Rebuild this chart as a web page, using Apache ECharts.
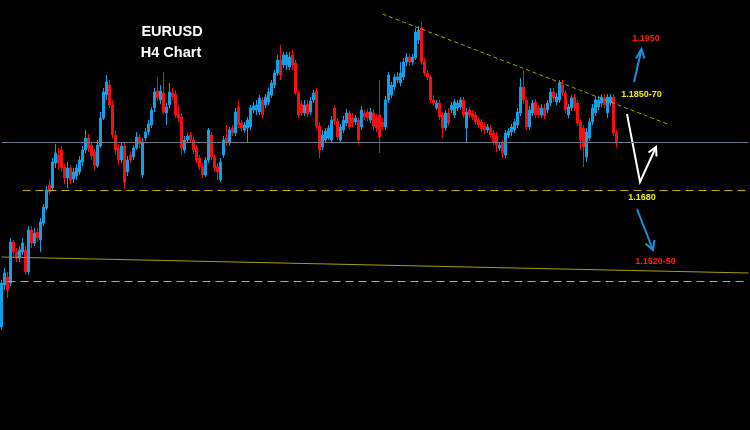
<!DOCTYPE html>
<html><head><meta charset="utf-8">
<script src="https://cdn.jsdelivr.net/npm/echarts@6/dist/echarts.min.js"></script>
<style>html,body{margin:0;padding:0;background:#000}#c{width:750px;height:430px}</style>
</head><body><div id="c"></div><script>
// EURUSD H4 candles (open, close, low, high)
const opens=[1.1406,1.1490,1.1506,1.1494,1.1576,1.1556,1.1544,1.1556,1.1560,1.1516,
1.1600,1.1574,1.1596,1.1580,1.1614,1.1644,1.1690,1.1684,1.1734,1.1750,
1.1760,1.1726,1.1704,1.1724,1.1702,1.1708,1.1716,1.1736,1.1760,1.1784,
1.1770,1.1756,1.1728,1.1768,1.1824,1.1870,1.1890,1.1850,1.1790,1.1764,
1.1740,1.1768,1.1716,1.1750,1.1746,1.1764,1.1786,1.1710,1.1784,1.1796,
1.1810,1.1844,1.1878,1.1860,1.1874,1.1834,1.1850,1.1874,1.1872,1.1832,
1.1826,1.1760,1.1780,1.1790,1.1780,1.1764,1.1744,1.1728,1.1710,1.1740,
1.1790,1.1746,1.1726,1.1700,1.1750,1.1784,1.1774,1.1804,1.1794,1.1846,
1.1814,1.1800,1.1804,1.1806,1.1840,1.1840,1.1836,1.1860,1.1850,1.1856,
1.1870,1.1890,1.1914,1.1940,1.1930,1.1930,1.1926,1.1950,1.1934,1.1874,
1.1852,1.1834,1.1852,1.1836,1.1860,1.1878,1.1808,1.1766,1.1780,1.1784,
1.1780,1.1844,1.1818,1.1780,1.1800,1.1814,1.1834,1.1824,1.1816,1.1820,
1.1806,1.1834,1.1836,1.1820,1.1834,1.1824,1.1830,1.1816,1.1806,1.1860,
1.1870,1.1886,1.1900,1.1894,1.1906,1.1936,1.1946,1.1936,1.1944,1.1980,
1.2004,1.1936,1.1914,1.1906,1.1860,1.1844,1.1854,1.1830,1.1804,1.1834,
1.1840,1.1830,1.1844,1.1846,1.1860,1.1804,1.1840,1.1834,1.1830,1.1820,
1.1816,1.1808,1.1800,1.1804,1.1794,1.1788,1.1764,1.1774,1.1750,1.1790,
1.1796,1.1800,1.1810,1.1834,1.1886,1.1860,1.1806,1.1834,1.1856,1.1844,
1.1830,1.1844,1.1840,1.1854,1.1876,1.1856,1.1860,1.1890,1.1874,1.1830,
1.1844,1.1866,1.1854,1.1816,1.1804,1.1746,1.1784,1.1816,1.1834,1.1846,
1.1854,1.1864,1.1834,1.1854,1.1866,1.1794];
const closes=[1.1494,1.1514,1.1480,1.1576,1.1556,1.1544,1.1560,1.1574,1.1516,1.1600,
1.1574,1.1594,1.1584,1.1616,1.1646,1.1680,1.1676,1.1736,1.1754,1.1734,
1.1724,1.1704,1.1724,1.1700,1.1716,1.1724,1.1740,1.1760,1.1784,1.1764,
1.1748,1.1730,1.1770,1.1824,1.1876,1.1896,1.1850,1.1790,1.1760,1.1740,
1.1768,1.1696,1.1740,1.1740,1.1764,1.1786,1.1772,1.1776,1.1796,1.1812,
1.1840,1.1876,1.1864,1.1878,1.1836,1.1846,1.1876,1.1866,1.1830,1.1824,
1.1764,1.1780,1.1788,1.1780,1.1760,1.1740,1.1726,1.1710,1.1740,1.1800,
1.1746,1.1724,1.1716,1.1736,1.1780,1.1774,1.1800,1.1794,1.1836,1.1810,
1.1804,1.1810,1.1820,1.1844,1.1848,1.1850,1.1864,1.1830,1.1866,1.1876,
1.1894,1.1914,1.1940,1.1910,1.1950,1.1950,1.1946,1.1930,1.1874,1.1830,
1.1834,1.1850,1.1832,1.1858,1.1874,1.1808,1.1760,1.1790,1.1798,1.1804,
1.1820,1.1818,1.1786,1.1806,1.1820,1.1834,1.1806,1.1814,1.1824,1.1780,
1.1840,1.1826,1.1824,1.1836,1.1808,1.1804,1.1786,1.1806,1.1860,1.1910,
1.1890,1.1906,1.1906,1.1914,1.1936,1.1946,1.1936,1.1946,1.1996,1.2000,
1.1936,1.1914,1.1906,1.1860,1.1854,1.1854,1.1826,1.1804,1.1834,1.1814,
1.1850,1.1856,1.1854,1.1860,1.1830,1.1836,1.1830,1.1826,1.1816,1.1810,
1.1802,1.1800,1.1806,1.1790,1.1776,1.1770,1.1770,1.1754,1.1794,1.1798,
1.1806,1.1816,1.1836,1.1886,1.1860,1.1806,1.1840,1.1854,1.1830,1.1830,
1.1844,1.1828,1.1854,1.1876,1.1864,1.1866,1.1894,1.1874,1.1840,1.1846,
1.1864,1.1844,1.1814,1.1780,1.1766,1.1796,1.1816,1.1844,1.1860,1.1860,
1.1866,1.1850,1.1866,1.1866,1.1794,1.1774];
const lows=[1.1400,1.1480,1.1464,1.1488,1.1544,1.1536,1.1536,1.1550,1.1510,1.1510,
1.1564,1.1568,1.1576,1.1556,1.1608,1.1640,1.1670,1.1680,1.1724,1.1720,
1.1716,1.1692,1.1684,1.1692,1.1694,1.1700,1.1710,1.1728,1.1754,1.1756,
1.1740,1.1720,1.1724,1.1764,1.1820,1.1860,1.1844,1.1784,1.1750,1.1730,
1.1734,1.1682,1.1708,1.1734,1.1740,1.1760,1.1764,1.1704,1.1778,1.1790,
1.1804,1.1836,1.1858,1.1852,1.1830,1.1810,1.1844,1.1860,1.1824,1.1816,
1.1750,1.1754,1.1774,1.1774,1.1752,1.1734,1.1720,1.1704,1.1706,1.1734,
1.1740,1.1716,1.1700,1.1696,1.1744,1.1768,1.1768,1.1788,1.1788,1.1804,
1.1798,1.1794,1.1774,1.1800,1.1834,1.1830,1.1830,1.1824,1.1844,1.1850,
1.1864,1.1884,1.1908,1.1900,1.1924,1.1920,1.1920,1.1920,1.1870,1.1824,
1.1828,1.1828,1.1826,1.1830,1.1854,1.1802,1.1744,1.1760,1.1774,1.1780,
1.1774,1.1810,1.1780,1.1774,1.1794,1.1808,1.1800,1.1806,1.1810,1.1770,
1.1800,1.1820,1.1818,1.1814,1.1800,1.1796,1.1754,1.1800,1.1800,1.1854,
1.1864,1.1880,1.1894,1.1888,1.1900,1.1928,1.1928,1.1930,1.1940,1.1972,
1.1930,1.1908,1.1900,1.1854,1.1848,1.1840,1.1820,1.1784,1.1798,1.1808,
1.1834,1.1824,1.1838,1.1840,1.1824,1.1774,1.1824,1.1820,1.1810,1.1804,
1.1796,1.1792,1.1794,1.1784,1.1770,1.1756,1.1758,1.1744,1.1744,1.1784,
1.1788,1.1794,1.1804,1.1828,1.1852,1.1800,1.1800,1.1828,1.1824,1.1824,
1.1824,1.1822,1.1834,1.1848,1.1856,1.1850,1.1854,1.1868,1.1834,1.1824,
1.1838,1.1838,1.1808,1.1760,1.1726,1.1736,1.1778,1.1810,1.1828,1.1840,
1.1846,1.1844,1.1824,1.1848,1.1788,1.1766];
const highs=[1.1500,1.1524,1.1516,1.1584,1.1580,1.1564,1.1568,1.1584,1.1568,1.1608,
1.1608,1.1604,1.1604,1.1624,1.1652,1.1688,1.1700,1.1744,1.1772,1.1764,
1.1768,1.1732,1.1736,1.1730,1.1724,1.1732,1.1748,1.1768,1.1800,1.1792,
1.1776,1.1762,1.1780,1.1836,1.1884,1.1910,1.1900,1.1860,1.1800,1.1772,
1.1776,1.1774,1.1748,1.1756,1.1770,1.1796,1.1792,1.1784,1.1804,1.1820,
1.1846,1.1884,1.1906,1.1890,1.1916,1.1854,1.1894,1.1884,1.1880,1.1848,
1.1834,1.1788,1.1794,1.1796,1.1786,1.1770,1.1750,1.1734,1.1746,1.1804,
1.1796,1.1752,1.1734,1.1744,1.1788,1.1810,1.1806,1.1810,1.1844,1.1860,
1.1820,1.1816,1.1826,1.1850,1.1856,1.1860,1.1870,1.1866,1.1872,1.1884,
1.1900,1.1920,1.1950,1.1970,1.1956,1.1956,1.1956,1.1960,1.1940,1.1880,
1.1860,1.1860,1.1860,1.1866,1.1880,1.1884,1.1816,1.1800,1.1804,1.1810,
1.1828,1.1850,1.1824,1.1812,1.1828,1.1842,1.1840,1.1834,1.1830,1.1826,
1.1848,1.1840,1.1842,1.1844,1.1842,1.1832,1.1900,1.1824,1.1868,1.1916,
1.1896,1.1912,1.1916,1.1936,1.1944,1.1954,1.1952,1.1952,1.2004,1.2008,
1.2016,1.1944,1.1920,1.1910,1.1870,1.1860,1.1860,1.1836,1.1840,1.1844,
1.1856,1.1862,1.1860,1.1866,1.1866,1.1844,1.1846,1.1840,1.1836,1.1826,
1.1822,1.1816,1.1812,1.1810,1.1800,1.1796,1.1776,1.1780,1.1800,1.1804,
1.1812,1.1822,1.1844,1.1904,1.1920,1.1866,1.1848,1.1860,1.1862,1.1850,
1.1852,1.1852,1.1860,1.1884,1.1884,1.1874,1.1900,1.1900,1.1880,1.1852,
1.1870,1.1872,1.1860,1.1822,1.1810,1.1804,1.1824,1.1852,1.1868,1.1868,
1.1872,1.1872,1.1872,1.1872,1.1872,1.1800];

// Price levels and drawn lines
const pivotLevel = 1.1776;        // grey horizontal
const supportLevel = 1.1680;      // upper dashed level
const lowerLevel = 1.1497;        // lower dashed level
const channelPrices = [1.1546, 1.1514]; // gently sloping solid line (start, end)
const trendPrices = [1.2032, 1.1812];   // falling dashed trend line (start, end)
const trendBars = [127, 222];
const slotCount = 250;            // visible bar slots incl. empty right margin
const categories = [];
for (let i = 0; i < slotCount; i++) categories.push('b' + i);

// annotation texts
const titleLines = ['EURUSD', 'H4 Chart'];
const targetLabels = ['1.1950', '1.1850-70', '1.1680', '1.1520-50'];

const candles = opens.map((o, i) => [o, closes[i], lows[i], highs[i]]);

const chart = echarts.init(document.getElementById('c'), null, {renderer: 'canvas'});
const UP = '#129FE6', DOWN = '#F50F0F';
const arrowBlue = '#1A8FE0';
const font = (s) => 'bold ' + s + 'px "Liberation Sans", Arial, sans-serif';
const last = categories[slotCount - 1];

function seg(c1, p1, c2, p2, color, type) {
  const mk = () => ({color: color, width: 1, type: type, opacity: 1});
  return [{coord: [c1, p1], lineStyle: mk()}, {coord: [c2, p2], lineStyle: mk()}];
}

chart.setOption({
  backgroundColor: '#000000',
  animation: false,
  grid: {left: 0, right: 0, top: 0, bottom: 0},
  xAxis: {type: 'category', data: categories, boundaryGap: true, show: false},
  yAxis: {type: 'value', min: 1.1200, max: 1.2060, show: false, splitLine: {show: false}},
  series: [{
    type: 'candlestick',
    data: candles,
    barWidth: 2.4,
    itemStyle: {color: UP, color0: DOWN, borderColor: UP, borderColor0: DOWN, borderWidth: 1},
    markLine: {
      silent: true, symbol: ['none', 'none'], label: {show: false}, animation: false,
      emphasis: {disabled: true},
      data: [
        seg(categories[0], pivotLevel, last, pivotLevel, '#6E7888', 'solid'),
        seg(categories[7], supportLevel, last, supportLevel, '#B8B400', [8, 5]),
        seg(categories[2], lowerLevel, last, lowerLevel, '#C4BE00', [8, 5]),
        seg(categories[0], channelPrices[0], last, channelPrices[1], '#A3A000', 'solid'),
        seg(categories[trendBars[0]], trendPrices[0], categories[trendBars[1]], trendPrices[1], '#A8A400', [4, 3])
      ]
    }
  }],
  graphic: [
    {type: 'text', x: 172, y: 32, style: {text: titleLines[0], fill: '#ffffff', font: font(14.5), align: 'center', verticalAlign: 'middle', textAlign: 'center', textVerticalAlign: 'middle'}},
    {type: 'text', x: 171, y: 53, style: {text: titleLines[1], fill: '#ffffff', font: font(14.5), align: 'center', verticalAlign: 'middle', textAlign: 'center', textVerticalAlign: 'middle'}},
    {type: 'text', x: 646, y: 39, style: {text: targetLabels[0], fill: '#FF1A1A', font: font(9), align: 'center', verticalAlign: 'middle', textAlign: 'center', textVerticalAlign: 'middle'}},
    {type: 'text', x: 641.5, y: 95, style: {text: targetLabels[1], fill: '#F0F000', font: font(9), align: 'center', verticalAlign: 'middle', textAlign: 'center', textVerticalAlign: 'middle'}},
    {type: 'text', x: 642, y: 198, style: {text: targetLabels[2], fill: '#F0F000', font: font(9), align: 'center', verticalAlign: 'middle', textAlign: 'center', textVerticalAlign: 'middle'}},
    {type: 'text', x: 655.5, y: 261.5, style: {text: targetLabels[3], fill: '#FF1A1A', font: font(9), align: 'center', verticalAlign: 'middle', textAlign: 'center', textVerticalAlign: 'middle'}},
    // blue up arrow
    {type: 'polyline', shape: {points: [[634, 82], [641.5, 49]]}, style: {stroke: arrowBlue, lineWidth: 2, fill: null}},
    {type: 'polyline', shape: {points: [[636, 58.5], [641.5, 49], [644.5, 58.5]]}, style: {stroke: arrowBlue, lineWidth: 2, fill: null}},
    // white down-then-up path
    {type: 'polyline', shape: {points: [[627, 114], [640, 182], [656, 147]]}, style: {stroke: '#ffffff', lineWidth: 2, fill: null}},
    {type: 'polyline', shape: {points: [[648.5, 152.5], [656, 147], [656.5, 156.5]]}, style: {stroke: '#ffffff', lineWidth: 2, fill: null}},
    // blue down arrow
    {type: 'polyline', shape: {points: [[637, 209], [653, 250]]}, style: {stroke: arrowBlue, lineWidth: 2, fill: null}},
    {type: 'polyline', shape: {points: [[645.5, 243.5], [653, 250], [654.5, 240]]}, style: {stroke: arrowBlue, lineWidth: 2, fill: null}}
  ]
});
</script></body></html>
